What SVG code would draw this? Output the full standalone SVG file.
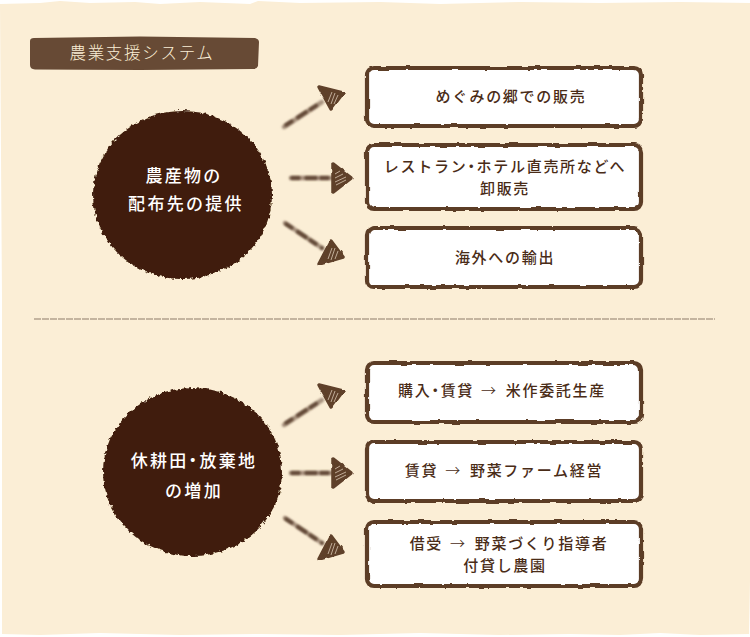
<svg xmlns="http://www.w3.org/2000/svg" width="750" height="637" viewBox="0 0 750 637">
<style>
text{font-family:"Noto Sans CJK JP","Noto Sans",sans-serif;text-anchor:middle}
.b{fill:#fff;stroke:#5c3c26;stroke-width:4.2;filter:url(#r)}
.t{font-size:15px;font-weight:500;fill:#4a2c17;letter-spacing:1.7px}
.c{fill:#3f1f0b;filter:url(#r2)}
.ct{font-size:17px;font-weight:500;fill:#fff;letter-spacing:2.3px}
.l{stroke:#a8937f;stroke-width:4.5;stroke-linecap:round;fill:none;filter:url(#s)}
.d{stroke:#5e4433;stroke-width:3.5;stroke-linecap:round;fill:none;stroke-dasharray:7 7 10 5;filter:url(#s)}
.h{fill:#5e4029;stroke:#5e4029;stroke-width:3.500;stroke-linejoin:round;filter:url(#r)}
.g{stroke:#d8c6b2;stroke-width:.8;fill:none}
.n{font-feature-settings:"palt"}
.a{font-weight:300}
</style>
<defs>
<filter id="r" filterUnits="userSpaceOnUse" x="0" y="0" width="750" height="637"><feTurbulence type="fractalNoise" baseFrequency="0.08" numOctaves="3" seed="4"/><feDisplacementMap in="SourceGraphic" scale="3" xChannelSelector="R" yChannelSelector="G"/></filter>
<filter id="r2" filterUnits="userSpaceOnUse" x="0" y="0" width="750" height="637"><feTurbulence type="fractalNoise" baseFrequency="0.25" numOctaves="2" seed="9"/><feDisplacementMap in="SourceGraphic" scale="5" xChannelSelector="R" yChannelSelector="G"/></filter>
<filter id="s" filterUnits="userSpaceOnUse" x="0" y="0" width="750" height="637"><feGaussianBlur stdDeviation="0.8"/></filter>
<g id="arrowUp"><path class="l" d="M284 127 L322 102"/><path class="d" d="M286 125 L322 102"/><path class="h" d="M319 87 L343 93 L331 109 Z"/><path class="g" d="M328 102 L332 92 M331 104 L335 93 M334 104 L338 95"/></g>
<g id="arrowMid"><path class="l" d="M291 178 L334 178"/><path class="d" d="M292 178 L334 178"/><path class="h" d="M333 164 L351 178 L333 192 Z"/><path class="g" d="M335 182 L346 177 M336 185 L346 180 M335 178 L343 174 M335 174 L340 171"/></g>
<g id="arrowDown"><path class="l" d="M285 223 L322 248"/><path class="d" d="M286 224 L322 248"/><path class="h" d="M343 257 L319 264 L331 241 Z"/><path class="g" d="M328 259 L332 248 M331 260 L335 248 M335 259 L338 251"/></g>
</defs>
<rect width="750" height="637" fill="#fff"/>
<path id="paper" d="M0 4 L40 3 L60 1 L90 3 L135 2 L160 4 L200 2 L250 4 L258 1 L300 3 L380 2 L440 4 L520 2 L600 3 L680 2 L750 3 L750 580 L749 637 L749 634 L700 635 L660 633 L620 635 L570 634 L500 635 L420 633 L340 635 L260 634 L180 635 L100 633 L40 635 L2 634 L2 300 Z" fill="#fbeed6"/>
<g id="title"><path d="M30 41 Q30 38 34 38 L140 36.500 L255 38 Q259 39 259 42 L258 66 Q257 69 253 69 L140 70 L35 69.500 Q30 69 30 65 Z" fill="#674a35"/><text x="142" y="59" font-size="16.500" font-weight="300" fill="#fbeed6" style="letter-spacing:1.7px">農業支援システム</text></g>
<g id="connectors">
<use href="#arrowUp"/><use href="#arrowMid"/><use href="#arrowDown"/>
<use href="#arrowUp" y="298"/><use href="#arrowMid" y="295"/><use href="#arrowDown" y="295"/>
</g>
<g id="circle1"><ellipse class="c" cx="182.500" cy="195" rx="89.500" ry="84"/><text class="ct" x="184" y="182">農産物の</text><text class="ct" x="186" y="210">配布先の提供</text></g>
<g id="circle2"><ellipse class="c" cx="192.500" cy="472" rx="89.500" ry="84"/><text class="ct" x="194" y="467">休耕田<tspan class="n">・</tspan>放棄地</text><text class="ct" x="194" y="497">の増加</text></g>
<g id="box1"><rect class="b" x="367" y="68" width="274" height="58" rx="7"/><text class="t" x="511" y="102">めぐみの郷での販売</text></g>
<g id="box2"><rect class="b" x="367" y="145" width="274" height="64" rx="7"/><text class="t" x="505" y="172">レストラン<tspan class="n">・</tspan>ホテル直売所などへ</text><text class="t" x="505" y="194">卸販売</text></g>
<g id="box3"><rect class="b" x="367" y="228" width="274" height="59" rx="7"/><text class="t" x="505" y="263">海外への輸出</text></g>
<g id="box4"><rect class="b" x="367" y="363" width="274" height="59" rx="7"/><text class="t" x="502" y="396">購入<tspan class="n">・</tspan>賃貸<tspan class="a" dx="7">→</tspan><tspan dx="8">米作委託生産</tspan></text></g>
<g id="box5"><rect class="b" x="367" y="442" width="274" height="59" rx="7"/><text class="t" x="504" y="476">賃貸<tspan class="a" dx="7">→</tspan><tspan dx="8">野菜ファーム経営</tspan></text></g>
<g id="box6"><rect class="b" x="367" y="522" width="274" height="64" rx="7"/><text class="t" x="509" y="549">借受<tspan class="a" dx="7">→</tspan><tspan dx="8">野菜づくり指導者</tspan></text><text class="t" x="505" y="571">付貸し農園</text></g>
<path id="divider" d="M34 319 H715" stroke="#8d7a68" stroke-width="1" stroke-dasharray="7 1" fill="none"/>
</svg>
